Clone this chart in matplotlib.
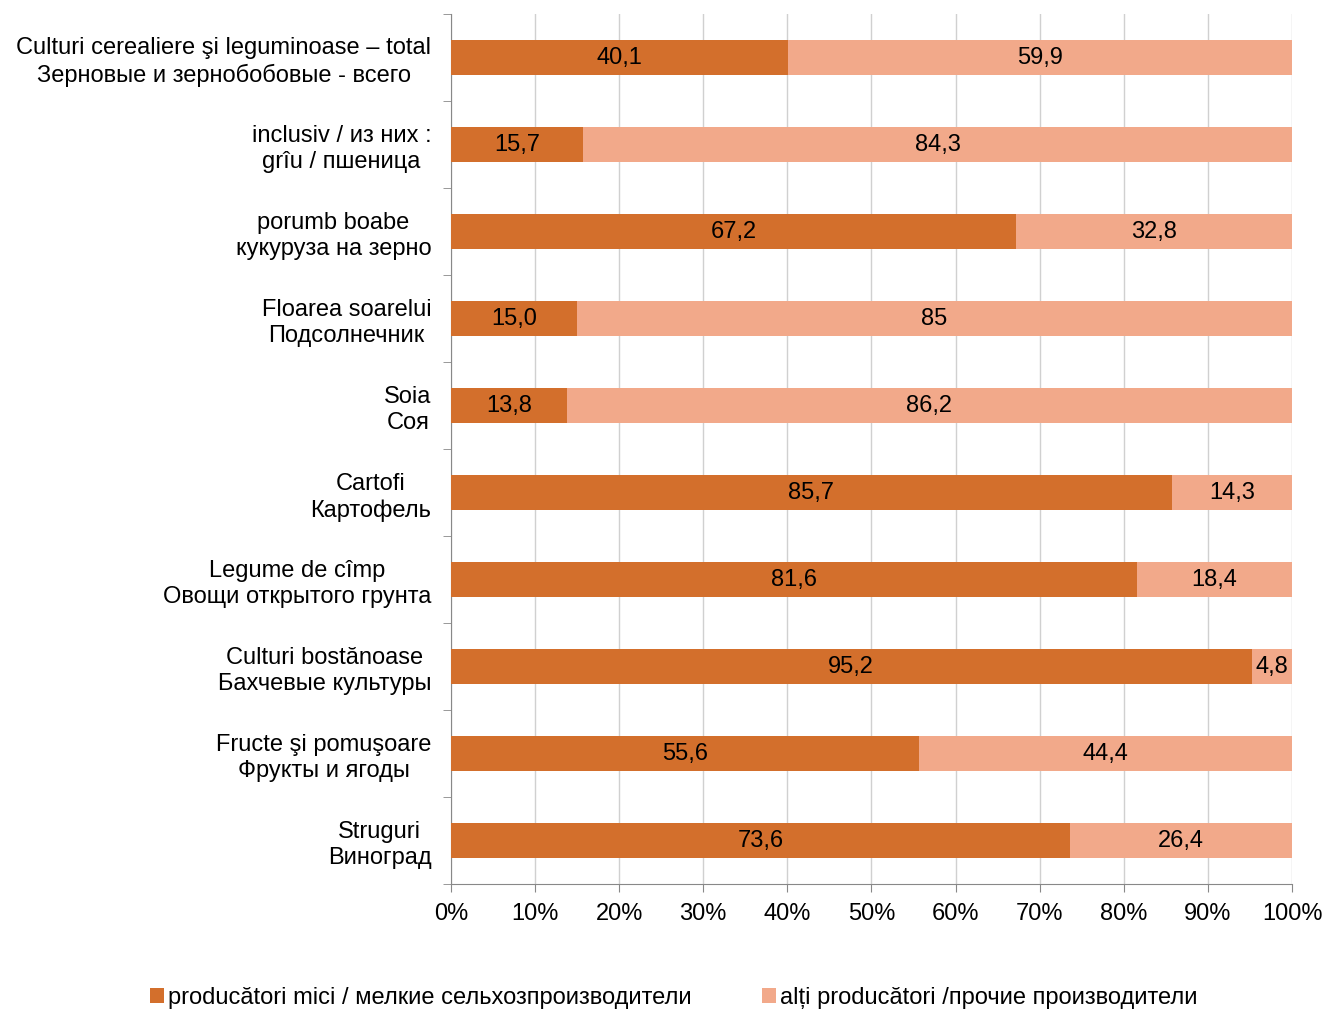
import matplotlib.pyplot as plt
import numpy as np

plt.rcParams['font.family'] = ['Liberation Sans', 'DejaVu Sans']

categories = [
    "Culturi cerealiere şi leguminoase – total\nЗерновые и зернобобовые - всего",
    "inclusiv / из них :\ngrîu / пшеница",
    "porumb boabe\nкукуруза на зерно",
    "Floarea soarelui\nПодсолнечник",
    "Soia\nСоя",
    "Cartofi\nКартофель",
    "Legume de cîmp\nОвощи открытого грунта",
    "Culturi bostănoase\nБахчевые культуры",
    "Fructe şi pomuşoare\nФрукты и ягоды",
    "Struguri\nВиноград",
]
small_producers = [40.1, 15.7, 67.2, 15.0, 13.8, 85.7, 81.6, 95.2, 55.6, 73.6]
other_producers = [59.9, 84.3, 32.8, 85.0, 86.2, 14.3, 18.4, 4.8, 44.4, 26.4]
small_labels = ["40,1", "15,7", "67,2", "15,0", "13,8", "85,7", "81,6", "95,2", "55,6", "73,6"]
other_labels = ["59,9", "84,3", "32,8", "85", "86,2", "14,3", "18,4", "4,8", "44,4", "26,4"]
legend_names = ["producători mici / мелкие сельхозпроизводители",
                "alți producători /прочие производители"]

dark = "#D36F2C"
light = "#F2A98A"
fs = 17

fig = plt.figure(figsize=(13.26, 10.11), dpi=100)
ax = fig.add_axes([0.340, 0.1256, 0.6344, 0.8605])

y = np.arange(len(categories))
b1 = ax.barh(y, small_producers, height=0.4, color=dark, label=legend_names[0], zorder=3)
b2 = ax.barh(y, other_producers, left=small_producers, height=0.4, color=light,
             label=legend_names[1], zorder=3)

# value labels centred in each segment
for i in range(len(categories)):
    ax.text(small_producers[i] / 2, y[i], small_labels[i], ha="center", va="center",
            fontsize=fs, zorder=4)
    ax.text(small_producers[i] + other_producers[i] / 2, y[i], other_labels[i],
            ha="center", va="center", fontsize=fs, zorder=4)

ax.set_xlim(0, 100)
ax.set_ylim(len(categories) - 0.5, -0.5)
ax.set_xticks(np.arange(0, 101, 10))
ax.set_xticklabels([str(v) + "%" for v in range(0, 101, 10)], fontsize=fs)
ax.tick_params(axis="x", length=6, color="#888888", pad=8)

ax.set_yticks(y)
ax.set_yticklabels(categories, fontsize=fs, multialignment="center", linespacing=1.25)
ax.tick_params(axis="y", which="major", length=0, pad=14)
ax.set_yticks(np.arange(-0.5, len(categories), 1), minor=True)
ax.tick_params(axis="y", which="minor", length=6, color="#888888")

ax.grid(axis="x", color="#D0D0D0", linewidth=1, zorder=0)
for side in ["top", "right"]:
    ax.spines[side].set_visible(False)
ax.spines["left"].set_color("#888888")
ax.spines["bottom"].set_color("#888888")

fig.legend(handles=[b1, b2], loc="center", bbox_to_anchor=(0.508, 0.013), ncol=2,
           frameon=False, fontsize=fs, handlelength=0.6, handleheight=0.6,
           handletextpad=0.15, columnspacing=3.0)

fig.savefig("out.png", dpi=100)
